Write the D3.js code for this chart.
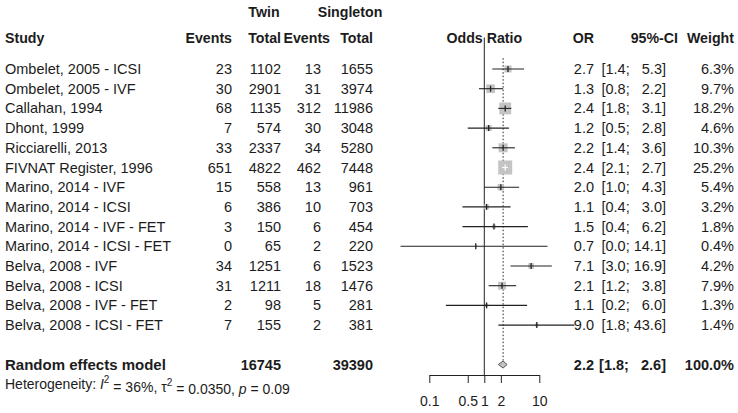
<!DOCTYPE html>
<html><head><meta charset="utf-8">
<script src="https://cdn.jsdelivr.net/npm/d3@7"></script>
<style>
html,body{margin:0;padding:0;background:#fff;}
svg text{font-family:"Liberation Sans",Arial,sans-serif;fill:#1c1c1c;}
</style></head>
<body><svg id="c" width="738" height="413"></svg>
<script>
const studies = ["Ombelet, 2005 - ICSI","Ombelet, 2005 - IVF","Callahan, 1994","Dhont, 1999","Ricciarelli, 2013","FIVNAT Register, 1996","Marino, 2014 - IVF","Marino, 2014 - ICSI","Marino, 2014 - IVF - FET","Marino, 2014 - ICSI - FET","Belva, 2008 - IVF","Belva, 2008 - ICSI","Belva, 2008 - IVF - FET","Belva, 2008 - ICSI - FET"];
const twinEvents = [23,30,68,7,33,651,15,6,3,0,34,31,2,7];
const twinTotal = [1102,2901,1135,574,2337,4822,558,386,150,65,1251,1211,98,155];
const singEvents = [13,31,312,30,34,462,13,10,6,2,6,18,5,2];
const singTotal = [1655,3974,11986,3048,5280,7448,961,703,454,220,1523,1476,281,381];
const oddsRatio = [2.7,1.3,2.4,1.2,2.2,2.4,2.0,1.1,1.5,0.7,7.1,2.1,1.1,9.0];
const ciLower = [1.4,0.8,1.8,0.5,1.4,2.1,1.0,0.4,0.4,0.03,3.0,1.2,0.2,1.8];
const ciUpper = [5.3,2.2,3.1,2.8,3.6,2.7,4.3,3.0,6.2,14.1,16.9,3.8,6.0,43.6];
const weights = [6.3,9.7,18.2,4.6,10.3,25.2,5.4,3.2,1.8,0.4,4.2,7.9,1.3,1.4];
const pooled = {label:"Random effects model", twinTotal:16745, singTotal:39390, or:2.2, lower:1.8, upper:2.6, weight:100.0};
const heterogeneity = {i2:"36%", tau2:"0.0350", p:"0.09"};
const tickValues = [0.1,0.5,1,2,10];

const svg = d3.select("#c");
const FS = 14.5, HS = 14.2;
const x = d3.scaleLog().domain([0.1,10]).range([429.3,539.3]);
const y = d3.scaleLinear().domain([0,1]).range([69,88.7]);
const sq = d3.scaleSqrt().domain([0,25.2]).range([0,14]);

const cols = {study:5, te:232, tt:281, se:321, seH:330, st:373, or:594, ci:666, w:734};

function txt(xp, yp, s, anchor, bold, size){
  return svg.append("text").attr("x",xp).attr("y",yp).attr("dy","0.35em")
    .attr("text-anchor",anchor||"start").attr("font-size",size||FS)
    .attr("font-weight",bold?"bold":"normal").text(s);
}
// headers
txt(264, 12, "Twin", "middle", true, HS);
txt(350, 12, "Singleton", "middle", true, HS);
const hy = 38;
txt(cols.study, hy, "Study", "start", true, HS);
txt(cols.te, hy, "Events", "end", true, HS);
txt(cols.tt, hy, "Total", "end", true, HS);
txt(cols.seH, hy, "Events", "end", true, HS);
txt(cols.st, hy, "Total", "end", true, HS);
txt(x(1), hy, "Odds Ratio", "middle", true, HS);
txt(cols.or, hy, "OR", "end", true, HS);
txt(678, hy, "95%-CI", "end", true, HS);
txt(cols.w, hy, "Weight", "end", true, HS);

const f1 = v => v.toFixed(1);
function ciText(l,u){ return "[" + f1(l) + "; " + (u<10?"\u2007":"") + f1(u) + "]"; }

// reference lines
svg.append("line").attr("x1",x(1)).attr("x2",x(1)).attr("y1",y(-1.6)).attr("y2",375)
  .attr("stroke","#222").attr("stroke-width",1);
svg.append("line").attr("x1",x(pooled.or)).attr("x2",x(pooled.or)).attr("y1",y(-0.55)).attr("y2",y(15)-4)
  .attr("stroke","#222").attr("stroke-width",1).attr("stroke-dasharray","1.5,2");

studies.forEach((s,i)=>{
  const yy = y(i);
  txt(cols.study, yy, s);
  txt(cols.te, yy, twinEvents[i], "end");
  txt(cols.tt, yy, twinTotal[i], "end");
  txt(cols.se, yy, singEvents[i], "end");
  txt(cols.st, yy, singTotal[i], "end");
  txt(cols.or, yy, f1(oddsRatio[i]), "end");
  txt(cols.ci, yy, ciText(ciLower[i],ciUpper[i]), "end");
  txt(cols.w, yy, f1(weights[i])+"%", "end");
  const side = sq(weights[i]);
  const cx = x(oddsRatio[i]);
  svg.append("rect").attr("x",cx-side/2).attr("y",yy-side/2).attr("width",side).attr("height",side)
    .attr("fill","#c4c4c4");
  const inside = x(ciLower[i]) >= cx-side/2 && x(ciUpper[i]) <= cx+side/2;
  const col = inside ? "#fff" : "#222";
  svg.append("line").attr("x1",x(ciLower[i])).attr("x2",x(ciUpper[i])).attr("y1",yy).attr("y2",yy)
    .attr("stroke",col).attr("stroke-width",1.1);
  svg.append("line").attr("x1",cx).attr("x2",cx).attr("y1",yy-3).attr("y2",yy+3)
    .attr("stroke",col).attr("stroke-width",1.3);
});

// pooled row
const py = y(15);
txt(cols.study, py, pooled.label, "start", true, 15);
txt(cols.tt, py, pooled.twinTotal, "end", true);
txt(cols.st, py, pooled.singTotal, "end", true);
txt(cols.or, py, f1(pooled.or), "end", true);
txt(cols.ci, py, ciText(pooled.lower,pooled.upper), "end", true);
txt(cols.w, py, f1(pooled.weight)+"%", "end", true);
svg.append("path")
  .attr("d", `M${x(pooled.lower)},${py}L${x(pooled.or)},${py-3.5}L${x(pooled.upper)},${py}L${x(pooled.or)},${py+3.5}Z`)
  .attr("fill","#c4c4c4").attr("stroke","#555").attr("stroke-width",1);

// heterogeneity
const ht = svg.append("text").attr("x",cols.study).attr("y",y(16)).attr("dy","0.35em").attr("font-size",14);
ht.append("tspan").text("Heterogeneity: ");
ht.append("tspan").attr("font-style","italic").text("I");
ht.append("tspan").attr("font-size",10).attr("dy","-0.6em").text("2");
ht.append("tspan").attr("dy","0.6em").text(" = " + heterogeneity.i2 + ", \u03c4");
ht.append("tspan").attr("font-size",10).attr("dy","-0.6em").text("2");
ht.append("tspan").attr("dy","0.6em").text(" = " + heterogeneity.tau2 + ", ");
ht.append("tspan").attr("font-style","italic").text("p");
ht.append("tspan").text(" = " + heterogeneity.p);

// axis
const ax = svg.append("g").attr("transform","translate(0,375)")
  .call(d3.axisBottom(x).tickValues(tickValues).tickFormat(d=>String(d)).tickSize(8).tickSizeOuter(0).tickPadding(13));
ax.select(".domain").attr("stroke","#222");
ax.selectAll(".tick line").attr("stroke","#222");
ax.selectAll(".tick text").attr("font-size",14).attr("fill","#1c1c1c").attr("font-family","Liberation Sans, Arial, sans-serif");
</script></body></html>
